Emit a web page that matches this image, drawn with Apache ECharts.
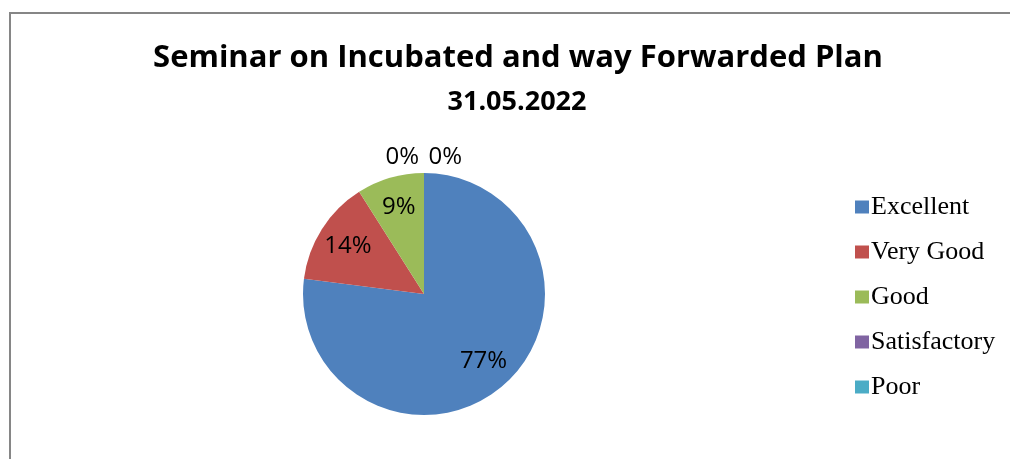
<!DOCTYPE html>
<html>
<head>
<meta charset="utf-8">
<script src="https://cdn.jsdelivr.net/npm/echarts@6/dist/echarts.min.js"></script>
<style>
  html, body { margin: 0; padding: 0; background: #fff; }
  #seminar-pie { width: 1010px; height: 459px; }
</style>
</head>
<body>
<div id="seminar-pie"></div>
<script>
// data
const categories = ["Excellent", "Very Good", "Good", "Satisfactory", "Poor"];
const percents = [77, 14, 9, 0, 0];
const colors = ["#4F81BD", "#C0504D", "#9BBB59", "#8064A2", "#4BACC6"];

const chartDom = echarts.init(document.getElementById("seminar-pie"));

let pieData = categories.map((name, i) => ({
  name: name,
  value: percents[i],
  itemStyle: { color: colors[i] },
}));

// transparent copy only used to place the % labels
let labelData = categories.map((name, i) => {
  let item = { name: name, value: percents[i] };
  if (percents[i] === 0) {
    item.label = { position: "outside" };
    item.labelLine = { show: false, length: 16, length2: 0 };
  }
  return item;
});

chartDom.setOption({
  animation: false,
  color: colors,
  title: [
    {
      text: "Seminar on Incubated and way Forwarded Plan",
      left: 513,
      textAlign: "center",
      top: 38,
      textStyle: {
        fontFamily: "Open Sans",
        fontWeight: "bold",
        fontSize: 31,
        color: "#000",
      },
    },
    {
      text: "31.05.2022",
      left: 512,
      textAlign: "center",
      top: 84,
      textStyle: {
        fontFamily: "Open Sans",
        fontWeight: "bold",
        fontSize: 27,
        color: "#000",
      },
    },
  ],
  legend: {
    orient: "vertical",
    left: 850,
    top: 189,
    itemWidth: 14,
    itemHeight: 13,
    itemGap: 19,
    icon: "rect",
    selectedMode: false,
    data: categories,
    textStyle: {
      fontFamily: "Liberation Serif",
      fontSize: 26,
      color: "#000",
      padding: [0, 0, 0, -3],
    },
  },
  graphic: [
    {
      // chart area frame, only left and top edges are in view
      type: "polyline",
      silent: true,
      shape: { points: [[10, 600], [10, 13], [1200, 13]] },
      style: { fill: "none", stroke: "#868686", lineWidth: 2 },
    },
  ],
  series: [
    {
      type: "pie",
      center: [424, 294],
      radius: [0, 121],
      startAngle: 90,
      clockwise: true,
      silent: true,
      label: { show: false },
      labelLine: { show: false },
      itemStyle: { borderWidth: 0 },
      data: pieData,
    },
    {
      type: "pie",
      center: [424, 294],
      radius: [53, 121],
      startAngle: 90,
      clockwise: true,
      silent: true,
      avoidLabelOverlap: false,
      itemStyle: { color: "rgba(0,0,0,0)", borderWidth: 0 },
      label: {
        show: true,
        position: "inside",
        formatter: (p) => p.value + "%",
        fontFamily: "Open Sans",
        fontSize: 24,
        color: "#000",
      },
      labelLine: { show: false },
      labelLayout: (params) => {
        if (params.dataIndex === 3) return { dx: 0 };
        if (params.dataIndex === 4) return { dx: 43 };
        return {};
      },
      data: labelData,
    },
  ],
});

window.addEventListener("resize", () => {
  chartDom.resize();
});
</script>
</body>
</html>
